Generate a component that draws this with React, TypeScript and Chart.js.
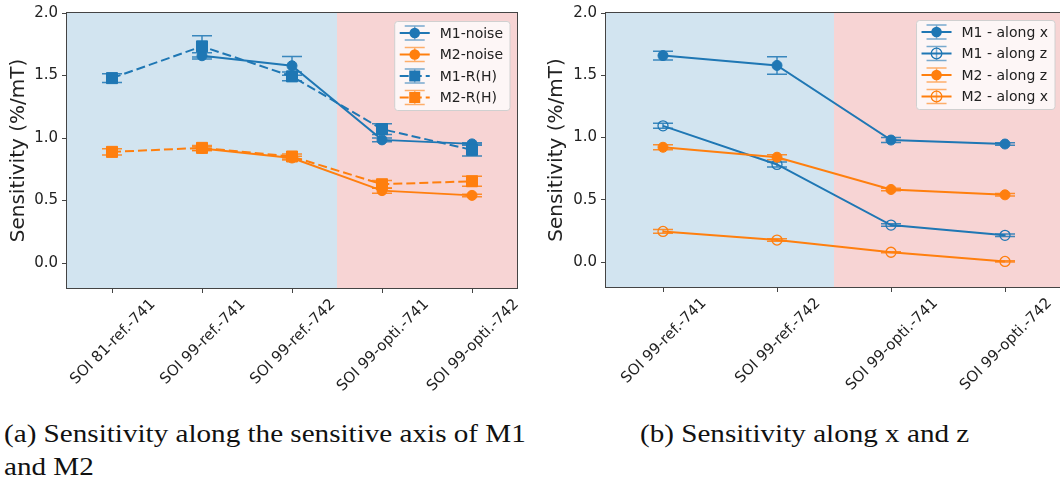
import React, { useEffect, useRef } from "react";
import { Chart, registerables } from "chart.js";
Chart.register(...registerables);

const BLUE = "#1f77b4";
const ORANGE = "#ff7f0e";
const SPAN_COLORS: Record<string, string> = {
  ref: "rgba(31,119,180,0.2)",
  opti: "rgba(214,39,40,0.2)",
};

// ---- (a) Sensitivity along the sensitive axis ----
const samplesA = ["SOI 81-ref.-741", "SOI 99-ref.-741", "SOI 99-ref.-742", "SOI 99-opti.-741", "SOI 99-opti.-742"];
const m1Noise = [null, 1.658, 1.578, 0.985, 0.953];
const m1NoiseErr = [null, 0.025, 0.075, 0.015, 0.01];
const m2Noise = [null, 0.916, 0.84, 0.579, 0.541];
const m2NoiseErr = [null, 0.015, 0.015, 0.02, 0.01];
const m1RH = [1.479, 1.733, 1.493, 1.071, 0.905];
const m1RHErr = [0.035, 0.085, 0.035, 0.043, 0.048];
const m2RH = [0.889, 0.921, 0.852, 0.63, 0.654];
const m2RHErr = [0.025, 0.02, 0.02, 0.03, 0.04];

// ---- (b) Sensitivity along x and z ----
const samplesB = ["SOI 99-ref.-741", "SOI 99-ref.-742", "SOI 99-opti.-741", "SOI 99-opti.-742"];
const m1AlongX = [1.658, 1.579, 0.98, 0.948];
const m1AlongXErr = [0.035, 0.07, 0.02, 0.01];
const m1AlongZ = [1.094, 0.784, 0.297, 0.215];
const m1AlongZErr = [0.02, 0.02, 0.01, 0.01];
const m2AlongZ = [0.922, 0.842, 0.583, 0.54];
const m2AlongZErr = [0.02, 0.02, 0.01, 0.01];
const m2AlongX = [0.246, 0.177, 0.079, 0.005];
const m2AlongXErr = [0.015, 0.01, 0.005, 0.005];

const yTicks = [0, 0.5, 1.0, 1.5, 2.0];
const yMin = -0.2;
const yMax = 2.0;
const yTitle = "Sensitivity (%/mT)";

// shaded sample groups (category units)
const spansA = [
  { from: -0.5, to: 2.5, kind: "ref" },
  { from: 2.5, to: 4.5, kind: "opti" },
];
const spansB = [
  { from: -0.5, to: 1.5, kind: "ref" },
  { from: 1.5, to: 3.5, kind: "opti" },
];

const FONT = "DejaVu Sans";

function series(label: string, data: any[], errors: any[], color: string, marker: "circle" | "rect", dashed: boolean, hollow: boolean, order: number) {
  return {
    label,
    data,
    errors,
    hollow,
    order,
    borderColor: color,
    backgroundColor: color,
    borderWidth: 2,
    borderDash: dashed ? [9, 4] : [],
    pointStyle: marker,
    pointRadius: marker === "rect" ? 7.8 : 5,
    pointBorderWidth: hollow ? 1.3 : 1,
    pointBorderColor: color,
    pointBackgroundColor: hollow ? "rgba(0,0,0,0)" : color,
    tension: 0,
    fill: false,
  };
}

function drawHandle(ctx: CanvasRenderingContext2D, ds: any, x0: number, y: number, len: number) {
  const c = ds.borderColor;
  const cx = x0 + len / 2;
  ctx.save();
  ctx.strokeStyle = c;
  ctx.globalAlpha = 0.6;
  ctx.lineWidth = 1.5;
  ctx.beginPath();
  ctx.moveTo(cx, y - 7);
  ctx.lineTo(cx, y + 7);
  ctx.moveTo(cx - 10, y - 7);
  ctx.lineTo(cx + 10, y - 7);
  ctx.moveTo(cx - 10, y + 7);
  ctx.lineTo(cx + 10, y + 7);
  ctx.stroke();
  ctx.globalAlpha = 1;
  ctx.lineWidth = ds.borderWidth;
  ctx.setLineDash(ds.borderDash || []);
  ctx.beginPath();
  ctx.moveTo(x0, y);
  ctx.lineTo(x0 + len, y);
  ctx.stroke();
  ctx.setLineDash([]);
  if (ds.pointStyle === "rect") {
    const s = 11;
    ctx.fillStyle = c;
    ctx.fillRect(cx - s / 2, y - s / 2, s, s);
  } else {
    ctx.beginPath();
    ctx.arc(cx, y, 5.3, 0, Math.PI * 2);
    if (ds.hollow) {
      ctx.lineWidth = 1.3;
      ctx.stroke();
    } else {
      ctx.fillStyle = c;
      ctx.fill();
    }
  }
  ctx.restore();
}

function makeDecor(spans: any[], legendTop: number) {
  return {
    id: "decor",
    beforeDatasetsDraw(chart: any) {
      const { ctx, chartArea: a, scales } = chart;
      const xs = scales.x;
      const ys = scales.y;
      ctx.save();
      for (const s of spans) {
        const x1 = xs.getPixelForValue(s.from);
        const x2 = xs.getPixelForValue(s.to);
        ctx.fillStyle = SPAN_COLORS[s.kind];
        ctx.fillRect(x1, a.top, x2 - x1, a.bottom - a.top);
      }
      // error bars (below the lines and markers)
      chart.data.datasets.forEach((ds: any) => {
        const errs = ds.errors;
        if (!errs) return;
        ctx.strokeStyle = ds.borderColor;
        ctx.lineWidth = 1.5;
        ctx.globalAlpha = 0.85;
        ctx.setLineDash([]);
        ds.data.forEach((v: any, i: number) => {
          if (v == null || errs[i] == null) return;
          const x = xs.getPixelForValue(i);
          const y1 = ys.getPixelForValue(v + errs[i]);
          const y2 = ys.getPixelForValue(v - errs[i]);
          ctx.beginPath();
          ctx.moveTo(x, y1);
          ctx.lineTo(x, y2);
          ctx.moveTo(x - 10, y1);
          ctx.lineTo(x + 10, y1);
          ctx.moveTo(x - 10, y2);
          ctx.lineTo(x + 10, y2);
          ctx.stroke();
        });
        ctx.globalAlpha = 1;
      });
      ctx.restore();
    },
    afterDraw(chart: any) {
      const { ctx, chartArea: a, scales } = chart;
      const xs = scales.x;
      ctx.save();
      // spines
      ctx.strokeStyle = "#444";
      ctx.lineWidth = 1;
      ctx.strokeRect(a.left - 0.5, a.top - 0.5, a.right - a.left + 1, a.bottom - a.top + 1);
      // rotated x labels, centred on ticks
      const fs = 15;
      ctx.font = `${fs}px "${FONT}"`;
      ctx.fillStyle = "#222";
      (chart.data.labels as string[]).forEach((lab, i) => {
        const px = xs.getPixelForValue(i);
        const w = ctx.measureText(lab).width;
        const half = ((w + 0.75 * fs) * Math.SQRT1_2) / 2;
        const cy = a.bottom + 5 + 4 + half;
        ctx.save();
        ctx.translate(px, cy);
        ctx.rotate(-Math.PI / 4);
        ctx.textAlign = "center";
        ctx.textBaseline = "alphabetic";
        ctx.fillText(lab, 0, 0.36 * fs);
        ctx.restore();
      });
      // legend
      const lfs = 14;
      ctx.font = `${lfs}px "${FONT}"`;
      const dss = chart.data.datasets;
      const tw = Math.max(...dss.map((d: any) => ctx.measureText(d.label).width));
      const bw = 45 + tw + 7;
      const bh = 89;
      const bx = a.right - 7 - bw;
      const by = a.top + legendTop;
      ctx.beginPath();
      (ctx as any).roundRect(bx, by, bw, bh, 3);
      ctx.fillStyle = "rgba(255,255,255,0.8)";
      ctx.fill();
      ctx.strokeStyle = "#d0d0d0";
      ctx.lineWidth = 1;
      ctx.stroke();
      dss.forEach((d: any, i: number) => {
        const ry = by + 11.5 + i * 21.5;
        drawHandle(ctx, d, bx + 5, ry, 30);
        ctx.fillStyle = "#222";
        ctx.textAlign = "left";
        ctx.textBaseline = "middle";
        ctx.fillText(d.label, bx + 45, ry + 1);
      });
      ctx.restore();
    },
  };
}

function buildConfig(labels: string[], datasets: any[], spans: any[], geo: any) {
  return {
    type: "line",
    data: { labels, datasets },
    options: {
      responsive: false,
      animation: false,
      events: [],
      layout: { padding: { top: geo.top, right: geo.right, bottom: 0, left: 0 } },
      plugins: { legend: { display: false }, tooltip: { enabled: false } },
      scales: {
        x: {
          type: "category",
          offset: true,
          grid: { display: true, drawOnChartArea: false, drawTicks: true, tickLength: 5, color: "#444" },
          border: { display: false },
          ticks: { display: false },
          afterFit: (s: any) => {
            s.height = geo.height - geo.bottom;
          },
        },
        y: {
          type: "linear",
          min: yMin,
          max: yMax,
          afterBuildTicks: (s: any) => {
            s.ticks = yTicks.map((v) => ({ value: v }));
          },
          ticks: {
            callback: (v: any) => Number(v).toFixed(1),
            font: { family: FONT, size: 15 },
            color: "#222",
            padding: 4,
          },
          grid: { display: true, drawOnChartArea: false, tickLength: 5, color: "#444" },
          border: { display: false },
          title: {
            display: true,
            text: yTitle,
            font: { family: FONT, size: 20 },
            color: "#222",
            padding: { top: geo.titlePad, bottom: 0 },
          },
          afterFit: (s: any) => {
            s.width = geo.left;
          },
        },
      },
    },
    plugins: [makeDecor(spans, geo.legendTop)],
  };
}

function ChartPanel({ config, left, width, height }: any) {
  const ref = useRef<HTMLCanvasElement | null>(null);
  useEffect(() => {
    if (!ref.current) return;
    const chart = new Chart(ref.current, config);
    return () => chart.destroy();
  }, []);
  return (
    <canvas
      ref={ref}
      width={width}
      height={height}
      style={{ position: "absolute", left, top: 0, width, height, display: "block" }}
    />
  );
}

const H = 400;

export default function App() {
  const dsA = [
    series("M1-noise", m1Noise, m1NoiseErr, BLUE, "circle", false, false, 4),
    series("M2-noise", m2Noise, m2NoiseErr, ORANGE, "circle", false, false, 3),
    series("M1-R(H)", m1RH, m1RHErr, BLUE, "rect", true, false, 2),
    series("M2-R(H)", m2RH, m2RHErr, ORANGE, "rect", true, false, 1),
  ];
  const dsB = [
    series("M1 - along x", m1AlongX, m1AlongXErr, BLUE, "circle", false, false, 4),
    series("M1 - along z", m1AlongZ, m1AlongZErr, BLUE, "circle", false, true, 3),
    series("M2 - along z", m2AlongZ, m2AlongZErr, ORANGE, "circle", false, false, 2),
    series("M2 - along x", m2AlongX, m2AlongXErr, ORANGE, "circle", false, true, 1),
  ];
  const cfgA = buildConfig(samplesA, dsA, spansA, { top: 10, right: 13, bottom: 288, height: H, left: 67, titlePad: 7, legendTop: 8.5 });
  const cfgB = buildConfig(samplesB, dsB, spansB, { top: 6, right: 8, bottom: 287, height: H, left: 76, titlePad: 15, legendTop: 7.5 });

  const capStyle: any = {
    position: "absolute",
    fontFamily: '"Liberation Serif", serif',
    fontSize: 25,
    lineHeight: "33px",
    color: "#111",
    whiteSpace: "nowrap",
    transform: "scaleX(1.165)",
    transformOrigin: "left top",
  };

  return (
    <div style={{ position: "absolute", left: 0, top: 0, width: 1060, height: 481, overflow: "hidden", background: "#fff" }}>
      <ChartPanel config={cfgA} left={0} width={530} height={H} />
      <ChartPanel config={cfgB} left={530} width={540} height={H} />
      <div style={{ ...capStyle, left: 4, top: 417 }}>
        (a) Sensitivity along the sensitive axis of M1
        <br />
        and M2
      </div>
      <div style={{ ...capStyle, left: 640, top: 417 }}>(b) Sensitivity along x and z</div>
    </div>
  );
}
